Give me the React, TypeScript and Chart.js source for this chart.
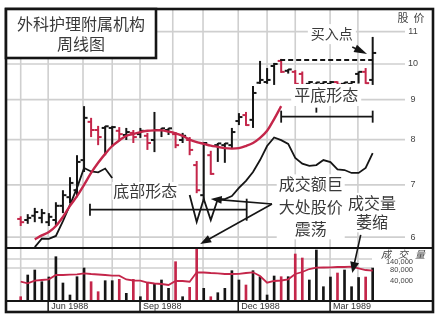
import { useEffect, useRef } from "react";
import { Chart, registerables } from "chart.js";

Chart.register(...registerables);

const RED = "#c4264a";
const INK = "#151515";
const GRID = "#cfcfcf";
const TEXT = "#3a3a3a";
const CJK = '"Noto Sans CJK SC", "Noto Sans", sans-serif';
const LATIN = '"Liberation Sans", Arial, sans-serif';

// Weekly price bars (one entry per week)
const highs = [6.38, 6.42, 6.54, 6.52, 6.44, 6.65, 6.89, 7.16, 7.64, 8.83, 8.53, 8.33, 8.33, 8.33, 8.3, 8.28, 8.23, 8.28, 8.16, 8.68, 8.28, 8.28, 8.18, 8.16, 8.06, 7.51, 7.94, 7.74, 7.92, 7.92, 8.28, 8.65, 8.68, 9.37, 10.09, 9.88, 10.03, 10.15, 9.85, 9.82, 9.78, 9.51, 9.48, 9.5, 9.51, 9.5, 9.48, 9.51, 9.78, 9.88, 10.83];
const lows = [6.2, 6.24, 6.27, 6.25, 6.2, 6.2, 6.44, 6.63, 6.75, 7.27, 8.06, 7.87, 7.64, 7.83, 7.97, 7.99, 7.92, 8.04, 7.76, 7.71, 8.06, 8.11, 7.8, 7.92, 7.64, 6.83, 6.69, 7.21, 7.49, 7.47, 7.8, 8.35, 8.33, 8.28, 9.43, 9.43, 9.4, 9.74, 9.72, 9.37, 9.37, 9.4, 9.4, 9.4, 9.4, 9.4, 9.4, 9.4, 9.44, 9.43, 9.4];
const opens = [6.33, 6.31, 6.39, 6.35, 6.27, 6.31, 6.58, 6.75, 6.89, 7.53, 8.43, 8.23, 8.28, 8.28, 8.21, 8.11, 8.16, 8.13, 8.09, 7.99, 8.23, 8.23, 8.13, 7.99, 7.99, 7.42, 6.79, 7.64, 7.87, 7.87, 7.87, 8.45, 8.6, 8.48, 9.46, 9.48, 9.94, 10.09, 9.8, 9.77, 9.71, 9.43, 9.41, 9.43, 9.43, 9.48, 9.43, 9.43, 9.71, 9.77, 9.54];
const closes = [6.27, 6.35, 6.46, 6.44, 6.37, 6.58, 6.79, 7.04, 7.49, 8.53, 8.23, 8.06, 8.32, 8.3, 8.13, 8.18, 8.06, 8.21, 7.92, 8.23, 8.27, 8.27, 7.87, 8.09, 7.76, 6.89, 7.92, 7.23, 7.91, 7.91, 8.18, 8.55, 8.35, 9.18, 9.54, 9.54, 10.0, 9.77, 9.84, 9.43, 9.4, 9.48, 9.47, 9.48, 9.48, 9.41, 9.47, 9.48, 9.77, 9.45, 10.33];

// 10-week average of price (ends where the base begins)
const priceMA = [null, null, 5.96, 6.03, 6.09, 6.2, 6.37, 6.58, 6.77, 7.0, 7.25, 7.47, 7.67, 7.85, 7.98, 8.09, 8.13, 8.18, 8.21, 8.22, 8.22, 8.19, 8.15, 8.09, 8.0, 7.94, 7.9, 7.86, 7.83, 7.8, 7.79, 7.8, 7.85, 7.92, 8.04, 8.21, 8.5, 8.83];

// relative strength line
const relStrength = [null, null, 18.4, 21.3, 21.2, 22.2, 27.3, 32.8, 38.6, 45.4, 44.2, 43.9, 45.2, 42.0, null, null, null, null, null, null, null, null, null, null, 36.2, 27.0, 34.8, 27.6, 34.8, 34.8, 35.8, 38.6, 41.0, 44.0, 48.1, 52.9, 55.8, 54.9, 53.6, 48.8, 46.9, 46.1, 46.4, 48.1, 47.4, 44.9, 44.7, 43.7, 43.7, 45.4, 50.5];

// weekly volume and its moving average
const volumes = [8600, 52000, 62000, 38600, 48000, 88600, 36000, 12000, 48600, 66000, 38600, 18600, 40600, 40600, 43400, 15400, 43400, 8600, 35400, 34000, 42000, 25400, 78600, 8600, 27400, 107400, 25400, 8600, 16600, 25400, 60600, 42000, 32000, 60600, 48600, 12000, 50000, 48600, 48600, 94000, 86000, 42000, 102000, 28600, 48000, 56000, 62000, 28600, 47000, 48000, 66000];
const volumeMA = [38600, 35400, 40600, 42000, 43400, 52000, 52000, 52600, 53400, 55400, 54000, 53000, 52000, 50600, 50600, 43000, 41000, 40600, 37000, 35000, 34000, 32000, 40000, 40000, 38600, 57400, 57000, 56000, 55400, 54000, 54000, 54400, 56000, 57400, 50000, 36600, 40000, 41000, 43400, 54000, 58000, 64000, 66600, 67000, 67400, 68000, 68000, 68600, 65400, 62000, 60600];

const priceTicks = [6, 7, 8, 9, 10, 11];
const volumeGrid = [66000, 84000];
const volumeTickLabels = ["140,000", "80,000", "40,000"];
const volumePanelTop = 106000;
// month boundaries, in weeks from the first bar
const monthStarts = [0, 3.9, 8.85, 13, 16.95, 21.6, 25.9, 30.9, 35, 39, 43.95, 47.9];
const quarterWeeks = [3.9, 16.95, 30.9, 43.95];
const quarterLabels = ["Jun 1988", "Sep 1988", "Dec 1988", "Mar 1989"];
const baseTop = 10.12;

function seg(ctx: CanvasRenderingContext2D, x0: number, y0: number, x1: number, y1: number) {
  ctx.beginPath();
  ctx.moveTo(x0, y0);
  ctx.lineTo(x1, y1);
  ctx.stroke();
}

function arrow(ctx: CanvasRenderingContext2D, x0: number, y0: number, x1: number, y1: number, head: number, half: number) {
  const ang = Math.atan2(y1 - y0, x1 - x0);
  const c = Math.cos(ang);
  const s = Math.sin(ang);
  seg(ctx, x0, y0, x1 - c * head * 0.7, y1 - s * head * 0.7);
  ctx.beginPath();
  ctx.moveTo(x1, y1);
  ctx.lineTo(x1 - head * c + half * s, y1 - head * s - half * c);
  ctx.lineTo(x1 - head * c - half * s, y1 - head * s + half * c);
  ctx.closePath();
  ctx.fill();
}

function label(ctx: CanvasRenderingContext2D, lines: string[], cx: number, cy: number, size: number, gap: number, pad = 3) {
  ctx.font = `${size}px ${CJK}`;
  const w = Math.max(...lines.map((l) => ctx.measureText(l).width));
  const h = gap * (lines.length - 1) + size;
  ctx.fillStyle = "#fff";
  ctx.fillRect(cx - w / 2 - pad, cy - h / 2 - pad, w + pad * 2, h + pad * 2);
  ctx.fillStyle = TEXT;
  ctx.textAlign = "center";
  ctx.textBaseline = "middle";
  lines.forEach((l, k) => ctx.fillText(l, cx, cy - h / 2 + size / 2 + k * gap));
}

const weeklyDecor = {
  id: "weeklyDecor",
  beforeDatasetsDraw(chart: any) {
    const { ctx, chartArea: a, scales } = chart;
    const sx = scales.x;
    const sp = scales.yPrice;
    const sv = scales.yVol;
    ctx.save();
    ctx.strokeStyle = GRID;
    ctx.lineWidth = 1.6;
    for (const m of monthStarts) {
      const px = sx.getPixelForValue(m);
      seg(ctx, px, a.top, px, a.bottom);
    }
    for (const p of priceTicks) {
      const py = sp.getPixelForValue(p);
      seg(ctx, a.left, py, a.right - 29, py);
    }
    for (const v of volumeGrid) {
      const py = sv.getPixelForValue(v);
      seg(ctx, a.left, py, a.right - 62, py);
    }
    // OHLC bars
    ctx.lineWidth = 2;
    for (let i = 0; i < highs.length; i++) {
      const px = sx.getPixelForValue(i);
      ctx.strokeStyle = closes[i] < opens[i] ? RED : INK;
      seg(ctx, px, sp.getPixelForValue(highs[i]), px, sp.getPixelForValue(lows[i]));
      const yo = sp.getPixelForValue(opens[i]);
      const yc = sp.getPixelForValue(closes[i]);
      seg(ctx, px - 3.5, yo, px, yo);
      seg(ctx, px, yc, px + 3.5, yc);
    }
    ctx.restore();
  },
  afterDatasetsDraw(chart: any) {
    const { ctx, chartArea: a, scales } = chart;
    const sx = scales.x;
    const sp = scales.yPrice;
    const sv = scales.yVol;
    const X = (i: number) => sx.getPixelForValue(i);
    const P = (p: number) => sp.getPixelForValue(p);
    const V = (v: number) => sv.getPixelForValue(v);
    ctx.save();
    ctx.strokeStyle = INK;
    ctx.fillStyle = INK;
    ctx.lineCap = "butt";

    // resistance across the top of the flat base
    ctx.lineWidth = 2;
    ctx.setLineDash([5, 3]);
    seg(ctx, X(37) - 1, P(baseTop), X(50), P(baseTop));
    ctx.setLineDash([]);

    // span of the flat base
    const yb = P(8.56);
    ctx.lineWidth = 1.8;
    seg(ctx, X(37), yb, X(50), yb);
    seg(ctx, X(37), yb - 6, X(37), yb + 6);
    seg(ctx, X(50), yb - 6, X(50), yb + 6);
    seg(ctx, X(42), yb - 9, X(42), yb - 4);

    // span of the bottom pattern
    const yd = P(6.505);
    seg(ctx, X(9.84), yd, X(32.1), yd);
    seg(ctx, X(9.84), yd - 6, X(9.84), yd + 6);
    seg(ctx, X(32.1), yd - 11, X(32.1), yd + 11);

    // arrows from the turnover note
    const apx = X(35.7);
    const apy = P(6.615);
    ctx.lineWidth = 1.6;
    arrow(ctx, apx, apy, X(27.0), P(6.714), 11, 4);
    arrow(ctx, apx, apy, X(25.5), P(5.879), 11, 4);

    // buy-point arrow
    arrow(ctx, X(47.1), P(10.51), X(49.2), P(10.3), 13, 4);
    // shrinking-volume arrow
    arrow(ctx, X(48.3), P(6.04), X(47.1), V(56000), 11, 4.5);

    // notes
    label(ctx, ["买入点"], X(44.2), P(10.92), 14, 0);
    label(ctx, ["平底形态"], X(43.4), P(9.125), 16, 0);
    label(ctx, ["底部形态"], X(17.7), P(6.874), 16, 0, 1);
    label(ctx, ["成交额巨", "大处股价", "震荡"], X(41.2), P(6.56), 16, 22.5, 2);
    label(ctx, ["成交量", "萎缩"], X(49.9), P(6.45), 16, 19.5, 2);

    // right-hand price labels
    ctx.fillStyle = "#444";
    ctx.font = `9px ${LATIN}`;
    ctx.textAlign = "center";
    ctx.textBaseline = "middle";
    for (const p of priceTicks) ctx.fillText(String(p), a.right - 21, P(p));
    ctx.font = `11px ${CJK}`;
    ctx.fillText("股", a.right - 31, a.top + 10);
    ctx.fillText("价", a.right - 15, a.top + 10);

    // volume panel labels
    const vTop = V(volumePanelTop);
    ctx.font = `italic 10px ${CJK}`;
    ["成", "交", "量"].forEach((c, k) => ctx.fillText(c, a.right - 48 + k * 17, vTop + 6));
    ctx.font = `7.5px ${LATIN}`;
    ctx.textAlign = "right";
    volumeTickLabels.forEach((t, k) => ctx.fillText(t, a.right - 21, vTop + [14, 22, 33][k]));

    // panel frames
    ctx.strokeStyle = INK;
    ctx.lineWidth = 2;
    seg(ctx, a.left, vTop, a.right, vTop);
    seg(ctx, a.left, a.bottom, a.right, a.bottom);
    ctx.lineWidth = 1.5;
    for (const q of quarterWeeks) seg(ctx, X(q), a.bottom, X(q), a.bottom + 11);
    ctx.fillStyle = "#333";
    ctx.font = `9px ${LATIN}`;
    ctx.textAlign = "left";
    ctx.textBaseline = "middle";
    quarterWeeks.forEach((q, k) => ctx.fillText(quarterLabels[k], X(q) + 3, a.bottom + 6));

    ctx.lineWidth = 2.6;
    ctx.strokeRect(a.left + 1, a.top + 1, a.right - a.left - 2, a.bottom + 11 - a.top - 1);

    // title box
    ctx.fillStyle = "#fff";
    ctx.fillRect(a.left + 1, a.top + 1, 150, 49);
    ctx.strokeRect(a.left + 1, a.top + 1, 150, 49);
    ctx.fillStyle = TEXT;
    ctx.font = `16px ${CJK}`;
    ctx.textAlign = "center";
    ctx.fillText("外科护理附属机构", a.left + 76, a.top + 16);
    ctx.fillText("周线图", a.left + 76, a.top + 36);
    ctx.restore();
  },
};

export default function App() {
  const ref = useRef<HTMLCanvasElement>(null);
  useEffect(() => {
    const prev = document.body.style.margin;
    document.body.style.margin = "0";
    const idx = highs.map((_, i) => i);
    const chart = new Chart(ref.current!, {
      type: "line",
      data: {
        datasets: [
          {
            type: "line",
            data: idx.filter((i) => priceMA[i] != null).map((i) => ({ x: i, y: priceMA[i] as number })),
            yAxisID: "yPrice",
            borderColor: RED,
            borderWidth: 2.4,
            pointRadius: 0,
            tension: 0.35,
            order: 1,
          },
          {
            type: "line",
            data: idx.map((i) => ({ x: i, y: relStrength[i] })),
            yAxisID: "yRs",
            borderColor: INK,
            borderWidth: 1.8,
            pointRadius: 0,
            tension: 0,
            spanGaps: false,
            order: 1,
          },
          {
            type: "bar",
            data: idx.map((i) => ({ x: i, y: volumes[i] })),
            yAxisID: "yVol",
            backgroundColor: idx.map((i) => (closes[i] < opens[i] ? RED : INK)),
            barThickness: 2,
            order: 3,
          },
          {
            type: "line",
            data: idx.map((i) => ({ x: i, y: volumeMA[i] })),
            yAxisID: "yVol",
            borderColor: RED,
            borderWidth: 1.8,
            pointRadius: 0,
            tension: 0,
            order: 2,
          },
        ] as any,
      },
      options: {
        responsive: false,
        animation: false,
        devicePixelRatio: 1,
        layout: { padding: { left: 5, top: 8, right: 5, bottom: 18 } },
        plugins: { legend: { display: false }, tooltip: { enabled: false } },
        scales: {
          x: { type: "linear", min: -2.23, max: 58.71, offset: false, bounds: "data", grace: 0, display: false },
          yPrice: { type: "logarithmic", min: 4.969, max: 11.795, display: false },
          yRs: { type: "linear", min: 0, max: 100, display: false },
          yVol: { type: "linear", min: 0, max: 586000, display: false },
        },
      },
      plugins: [weeklyDecor],
    } as any);
    return () => {
      chart.destroy();
      document.body.style.margin = prev;
    };
  }, []);
  return (
    <div style={{ position: "fixed", left: 0, top: 0, width: 439, height: 319, background: "#fff" }}>
      <canvas ref={ref} width={439} height={319} style={{ display: "block", width: 439, height: 319 }} />
    </div>
  );
}
